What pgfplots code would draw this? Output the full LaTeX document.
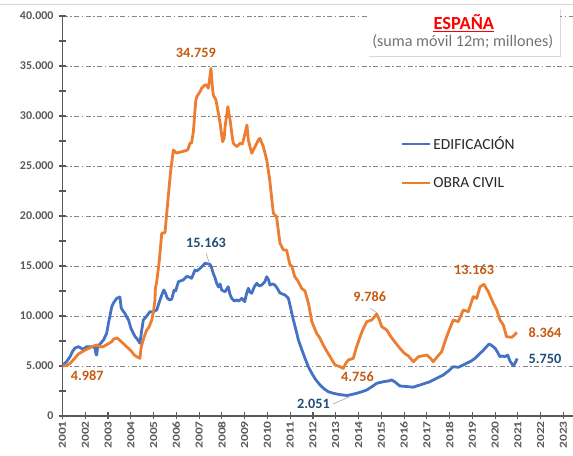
\documentclass[border=0pt]{standalone}
\usepackage{fontspec}
\setmainfont{Carlito}
\usepackage{pgfplots}
\pgfplotsset{compat=1.18}
\usetikzlibrary{shadows}
\definecolor{cblue}{HTML}{4472C4}
\definecolor{corange}{HTML}{ED7D31}
\definecolor{lblue}{HTML}{1F4E79}
\definecolor{lorange}{HTML}{C55A11}
\definecolor{axgray}{HTML}{595959}
\definecolor{gridgray}{HTML}{868686}
\definecolor{subgray}{HTML}{737373}
\begin{document}
\begin{tikzpicture}[x=1bp,y=1bp]
\useasboundingbox (0,0) rectangle (573,456);
\draw[black!15, line width=0.8bp] (0,452) -- (573,452);
\begin{axis}[at={(62.5bp,40bp)}, anchor=south west, scale only axis,
  width=510.5bp, height=400bp,
  xmin=2001, xmax=2023.42, ymin=0, ymax=40000,
  scaled y ticks=false, scaled x ticks=false,
  axis lines*=left, axis line style={axgray, line width=1.6bp, -},
  ytick={0,5000,10000,15000,20000,25000,30000,35000,40000},
  yticklabels={0,5.000,10.000,15.000,20.000,25.000,30.000,35.000,40.000},
  minor ytick={2500,7500,12500,17500,22500,27500,32500,37500},
  xtick={2001,2002,2003,2004,2005,2006,2007,2008,2009,2010,2011,2012,2013,2014,2015,2016,2017,2018,2019,2020,2021,2022,2023},
  xticklabels={2001,2002,2003,2004,2005,2006,2007,2008,2009,2010,2011,2012,2013,2014,2015,2016,2017,2018,2019,2020,2021,2022,2023},
  tick align=center, major tick length=7bp, minor tick length=7bp,
  tick style={axgray, line width=1.1bp},
  xticklabel style={rotate=90, anchor=east, yscale=0.8, font=\bfseries\fontsize{13.5}{13.5}\selectfont, text=axgray, inner sep=1.5bp},
  yticklabel style={font=\bfseries\fontsize{12}{12}\selectfont, text=axgray, xshift=-2bp},
  ymajorgrids,
  major grid style={gridgray, line width=0.9bp, dash pattern=on 5bp off 2.5bp on 1.5bp off 2.5bp},
  legend style={draw=none, fill=none, at={(0.657,0.707)}, anchor=north west,
    font=\fontsize{15.5}{16}\selectfont, row sep=23bp, text=black!85,
    nodes={inner sep=1.5bp}},
  legend cell align=left,
  legend image code/.code={\draw[#1] (0bp,0bp) -- (28bp,0bp);},
]
\addplot[cblue, line width=2.8bp, line join=round] coordinates {
(2001.00,4990) (2001.03,5100) (2001.2,5500) (2001.33,5930) (2001.45,6500) (2001.55,6800)
(2001.7,6930) (2001.9,6670) (2002.06,6930) (2002.28,6930) (2002.42,6850) (2002.47,6200)
(2002.5,6100) (2002.55,7000) (2002.65,7200) (2002.8,7600) (2002.94,8270) (2003.02,9300)
(2003.09,10100) (2003.16,10900) (2003.23,11270) (2003.38,11770) (2003.52,11900) (2003.58,10800)
(2003.66,10500) (2003.74,10270) (2003.82,9900) (2003.9,9600) (2004.0,8800) (2004.11,8270)
(2004.2,7900) (2004.26,7770) (2004.4,7270) (2004.48,8600) (2004.55,9600) (2004.7,10000)
(2004.84,10430) (2004.99,10430) (2005.14,10600) (2005.25,11400) (2005.36,12100) (2005.45,12600)
(2005.52,12300) (2005.6,11800) (2005.7,11600) (2005.8,11700) (2005.9,12600) (2005.97,12500)
(2006.09,13430) (2006.3,13600) (2006.45,13950) (2006.53,13930) (2006.67,13770) (2006.82,14600)
(2006.9,14500) (2007.04,14770) (2007.15,15000) (2007.26,15270) (2007.4,15200) (2007.48,15163)
(2007.55,14800) (2007.62,14270) (2007.7,13800) (2007.77,13270) (2007.85,12900) (2007.92,13200)
(2007.99,12600) (2008.07,12500) (2008.14,12430) (2008.28,12930) (2008.35,12200) (2008.43,11770)
(2008.55,11500) (2008.65,11600) (2008.75,11500) (2008.87,11770) (2009.0,11430) (2009.08,12200)
(2009.16,12770) (2009.23,12400) (2009.31,12270) (2009.42,12900) (2009.53,13270) (2009.65,13000)
(2009.75,13100) (2009.88,13400) (2009.97,13930) (2010.05,13600) (2010.11,13100) (2010.22,13200)
(2010.33,13100) (2010.45,12700) (2010.55,12300) (2010.66,12200) (2010.77,12100) (2010.92,11770)
(2011.0,11000) (2011.07,10270) (2011.14,9600) (2011.29,8270) (2011.36,7600) (2011.5,6700)
(2011.65,5770) (2011.8,4900) (2011.95,4270) (2012.1,3700) (2012.31,3100) (2012.5,2700)
(2012.67,2430) (2012.85,2300) (2013.04,2200) (2013.25,2120) (2013.48,2051) (2013.7,2150)
(2013.92,2270) (2014.15,2430) (2014.36,2600) (2014.6,2950) (2014.8,3270) (2015.09,3430)
(2015.3,3500) (2015.46,3600) (2015.6,3400) (2015.82,3000) (2016.1,2950) (2016.41,2880)
(2016.55,3000) (2016.7,3100) (2016.9,3250) (2017.14,3430) (2017.28,3600) (2017.5,3850)
(2017.72,4100) (2017.95,4500) (2018.16,4930) (2018.38,4870) (2018.55,5050) (2018.75,5270)
(2018.95,5500) (2019.12,5770) (2019.34,6270) (2019.45,6500) (2019.56,6770) (2019.65,7000)
(2019.74,7200) (2019.85,7050) (2020.0,6770) (2020.1,6400) (2020.21,5930) (2020.3,6000)
(2020.43,5930) (2020.55,6100) (2020.65,5500) (2020.8,5000) (2020.9,5400) (2020.97,5750)
};
\addlegendentry{EDIFICACIÓN}
\addplot[corange, line width=2.8bp, line join=round] coordinates {
(2001.0,4987) (2001.15,5050) (2001.3,5200) (2001.4,5430) (2001.55,5800) (2001.7,6200)
(2001.85,6400) (2002.0,6600) (2002.15,6750) (2002.28,6930) (2002.5,7100) (2002.65,6900)
(2002.8,6950) (2003.0,7200) (2003.16,7430) (2003.25,7700) (2003.4,7800) (2003.55,7500)
(2003.74,7100) (2003.9,6750) (2004.04,6430) (2004.15,6100) (2004.26,5930) (2004.4,5770)
(2004.45,6800) (2004.5,7270) (2004.6,8000) (2004.7,8600) (2004.8,8900) (2004.92,9600)
(2005.0,10500) (2005.06,11600) (2005.08,12800) (2005.13,13300) (2005.25,15500) (2005.36,18300)
(2005.5,18300) (2005.63,21600) (2005.75,24500) (2005.87,26600) (2006.0,26300) (2006.2,26400)
(2006.35,26500) (2006.5,26600) (2006.6,27300) (2006.67,27300) (2006.75,28500) (2006.85,31500)
(2006.9,31930) (2007.04,32430) (2007.11,32770) (2007.25,33100) (2007.33,33100) (2007.4,32770)
(2007.45,33500) (2007.52,34759) (2007.58,33000) (2007.62,32100) (2007.74,31600) (2007.85,30200)
(2007.92,29300) (2008.03,27430) (2008.1,27800) (2008.14,28930) (2008.26,30930) (2008.36,29600)
(2008.45,28000) (2008.5,27270) (2008.65,26930) (2008.8,27270) (2008.9,27200) (2009.0,28100)
(2009.1,29100) (2009.16,27600) (2009.31,26270) (2009.45,26900) (2009.6,27600) (2009.67,27770)
(2009.82,26930) (2009.97,25600) (2010.1,23600) (2010.26,20270) (2010.4,19930) (2010.55,17270)
(2010.7,16600) (2010.84,16600) (2010.99,15100) (2011.07,15000) (2011.2,13930) (2011.36,13430)
(2011.5,12770) (2011.65,12500) (2011.8,11270) (2011.95,9430) (2012.16,8270) (2012.3,7800)
(2012.45,7100) (2012.6,6500) (2012.75,5930) (2012.97,5100) (2013.19,4930) (2013.33,4756)
(2013.45,5300) (2013.55,5600) (2013.77,5770) (2013.9,6800) (2014.07,7930) (2014.2,8700)
(2014.36,9430) (2014.58,9600) (2014.8,10200) (2014.9,9700) (2015.02,8930) (2015.24,8600)
(2015.4,8000) (2015.53,7600) (2015.7,7100) (2015.82,6770) (2016.0,6300) (2016.19,6000)
(2016.41,5430) (2016.63,5930) (2017.0,6100) (2017.15,5800) (2017.28,5430) (2017.45,5900)
(2017.65,6430) (2017.87,7930) (2018.0,8700) (2018.16,9600) (2018.38,9430) (2018.6,10600)
(2018.82,10430) (2019.04,11930) (2019.19,11770) (2019.34,12930) (2019.51,13163) (2019.6,12800)
(2019.7,12430) (2019.92,11270) (2020.07,10600) (2020.21,9600) (2020.36,9100) (2020.5,7930)
(2020.73,7870) (2020.85,8100) (2020.95,8364)
};
\addlegendentry{OBRA CIVIL}
\end{axis}
% data labels
\begin{scope}[font=\bfseries\fontsize{14.3}{14.3}\selectfont, inner sep=0pt]
\node[text=lorange] at (195.8,402.7) {34.759};
\node[text=lblue] at (206,213.3) {15.163};
\node[text=lorange] at (87.2,80) {4.987};
\node[text=lblue] at (313.5,52.5) {2.051};
\node[text=lorange] at (357.5,79) {4.756};
\node[text=lorange] at (369.7,159.3) {9.786};
\node[text=lorange] at (474,186) {13.163};
\node[text=lorange] at (545,123.7) {8.364};
\node[text=lblue] at (545,96.7) {5.750};
\end{scope}
\draw[black!35, line width=0.6bp] (206,203.3) -- (209.3,192.7);
\draw[black!35, line width=0.6bp] (333,52) -- (350,59.3);
\draw[black!35, line width=0.6bp] (370,147.7) -- (376.7,143.3);
% title box
\fill[white, drop shadow={shadow xshift=1.2bp, shadow yshift=-1.2bp, opacity=0.3}] (367.3,400) rectangle (560,447.7);
\node[anchor=base, inner sep=0pt, text=red, font=\bfseries\fontsize{18.5}{18.5}\selectfont] (esp) at (463.8,426.7) {ESPAÑA};
\draw[red, line width=1.3bp] ([yshift=-2.4bp]esp.base west) -- ([yshift=-2.4bp]esp.base east);
\node[anchor=base, inner sep=0pt, text=subgray, font=\fontsize{16.2}{16.2}\selectfont] at (462.8,409.3) {(suma móvil 12m; millones)};
\end{tikzpicture}
\end{document}
